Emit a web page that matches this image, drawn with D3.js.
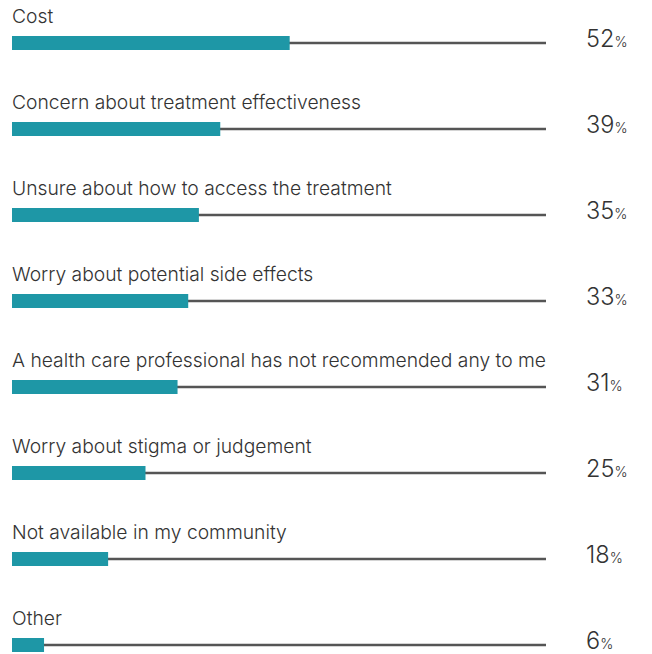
<!DOCTYPE html>
<html>
<head>
<meta charset="utf-8">
<script src="https://cdn.jsdelivr.net/npm/d3@7"></script>
<style>
  html, body { margin: 0; padding: 0; background: #fff; }
  svg { display: block; }
</style>
</head>
<body>
<svg id="chart" width="652" height="654"></svg>
<script>
// Reasons given for not seeking treatment (% of respondents)
const categories = [
  "Cost",
  "Concern about treatment effectiveness",
  "Unsure about how to access the treatment",
  "Worry about potential side effects",
  "A health care professional has not recommended any to me",
  "Worry about stigma or judgement",
  "Not available in my community",
  "Other"
];
const values = [52, 39, 35, 33, 31, 25, 18, 6];

const svg = d3.select("#chart");
const left = 12, right = 546;
const firstRow = 43, rowGap = 86;
const font = "Inter, 'Liberation Sans', Arial, sans-serif";

const x = d3.scaleLinear().domain([0, 100]).range([left, right]);
const y = d3.scalePoint().domain(categories).range([firstRow, firstRow + rowGap * (categories.length - 1)]);

const rows = svg.selectAll("g.row")
  .data(categories.map((c, i) => ({ c, v: values[i] })))
  .join("g")
  .attr("class", "row")
  .attr("transform", d => `translate(0,${y(d.c)})`);

// full-scale track
rows.append("line")
  .attr("x1", x(0)).attr("x2", x(100))
  .attr("y1", 0).attr("y2", 0)
  .attr("stroke", "#555")
  .attr("stroke-width", 2.5);

// value bar
rows.append("rect")
  .attr("x", x(0))
  .attr("y", -7)
  .attr("width", d => x(d.v) - x(0))
  .attr("height", 14)
  .attr("fill", "#1e97a6");

// category label
rows.append("text")
  .attr("x", left)
  .attr("y", -20)
  .attr("font-family", font)
  .attr("font-size", 19.3)
  .attr("font-weight", 300)
  .attr("fill", "#333")
  .text(d => d.c);

// value label
const vt = rows.append("text")
  .attr("x", 586)
  .attr("y", 4)
  .attr("font-family", font)
  .attr("font-weight", 300)
  .attr("fill", "#333");
vt.append("tspan").attr("font-size", 23.5).text(d => d.v);
vt.append("tspan").attr("font-size", 14).text("%");
</script>
</body>
</html>
